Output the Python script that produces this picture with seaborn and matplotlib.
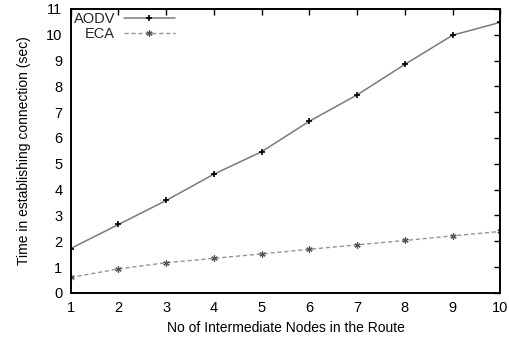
import matplotlib
matplotlib.use("Agg")
import matplotlib.pyplot as plt
import seaborn as sns
import pandas as pd

# Connection set-up time vs. route length
nodes = [1, 2, 3, 4, 5, 6, 7, 8, 9, 10]
aodv = [1.72, 2.65, 3.58, 4.60, 5.47, 6.65, 7.67, 8.85, 9.98, 10.48]
eca = [0.60, 0.93, 1.17, 1.34, 1.51, 1.69, 1.86, 2.03, 2.21, 2.38]
x_ticks = list(range(1, 11))
y_ticks = list(range(0, 12))

df = pd.concat([
    pd.DataFrame({"nodes": nodes, "time": aodv, "protocol": "AODV"}),
    pd.DataFrame({"nodes": nodes, "time": eca, "protocol": "ECA"}),
])

sns.set_theme(style="white")
plt.rcParams["font.family"] = ["Liberation Sans", "DejaVu Sans"]

fig, ax = plt.subplots(figsize=(5.09, 3.41), dpi=100)
fig.subplots_adjust(left=0.139, right=0.983, top=0.974, bottom=0.141)

sns.lineplot(data=df[df.protocol == "AODV"], x="nodes", y="time", ax=ax,
             color="#7a7a7a", linewidth=1.1, marker="+", markersize=5,
             markeredgecolor="black", markeredgewidth=1.2, label="AODV")
sns.lineplot(data=df[df.protocol == "ECA"], x="nodes", y="time", ax=ax,
             color="#959595", linewidth=1.0, linestyle=(0, (3, 2)),
             marker=(6, 2, 0), markersize=4.5, markeredgecolor="#555555",
             markeredgewidth=0.9, label="ECA")

ax.set_xlim(1, 10)
ax.set_ylim(0, 11)
ax.set_xticks(x_ticks)
ax.set_yticks(y_ticks)
ax.tick_params(axis="both", which="both", direction="in", length=4.5, width=1.0,
               top=True, right=True, labelsize=10.5, colors="black", pad=6)
for s in ax.spines.values():
    s.set_visible(True)
    s.set_color("black")
    s.set_linewidth(1.4)

ax.set_xlabel("No of Intermediate Nodes in the Route", fontsize=10, color="black", labelpad=4)
ax.set_ylabel("Time in establishing connection (sec)", fontsize=10, color="black", labelpad=11)

leg = ax.legend(loc="upper left", frameon=False, markerfirst=False, fontsize=10.5,
                handlelength=3.5, handletextpad=0.6, labelspacing=0.1,
                borderaxespad=0.1, borderpad=0.1)

fig.savefig("out.png", dpi=100)
